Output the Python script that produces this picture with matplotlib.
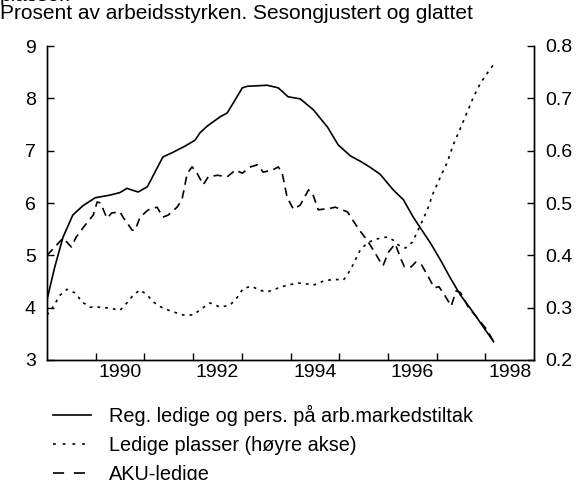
import matplotlib
matplotlib.use("Agg")
import matplotlib.pyplot as plt
from matplotlib.lines import Line2D

plt.rcParams['font.family'] = ['Liberation Sans', 'DejaVu Sans']
plt.rcParams['lines.scale_dashes'] = False

# Reg. ledige og pers. paa arb.markedstiltak (venstre akse)
reg_years = [1989.00, 1989.16, 1989.33, 1989.53, 1989.74, 1989.99, 1990.29, 1990.50,
             1990.64, 1990.87, 1991.06, 1991.38, 1991.59, 1991.84, 1992.04, 1992.14,
             1992.29, 1992.41, 1992.56, 1992.70, 1992.85, 1993.01, 1993.11, 1993.52,
             1993.75, 1993.95, 1994.20, 1994.47, 1994.76, 1994.98, 1995.23, 1995.43,
             1995.64, 1995.84, 1996.11, 1996.32, 1996.52, 1996.67, 1996.87, 1997.08,
             1997.28, 1997.49, 1997.76, 1997.96, 1998.17]
reg_vals = [4.15, 4.78, 5.35, 5.77, 5.95, 6.10, 6.15, 6.20,
            6.28, 6.21, 6.31, 6.88, 6.97, 7.09, 7.20, 7.34,
            7.47, 7.55, 7.65, 7.72, 7.95, 8.20, 8.23, 8.25,
            8.20, 8.03, 7.99, 7.78, 7.45, 7.11, 6.90, 6.80,
            6.68, 6.55, 6.25, 6.06, 5.73, 5.52, 5.24, 4.91,
            4.57, 4.24, 3.90, 3.63, 3.35]

# AKU-ledige (venstre akse)
aku_years = [1989.00, 1989.16, 1989.33, 1989.50, 1989.60, 1989.76, 1989.95, 1990.03,
             1990.10, 1990.23, 1990.33, 1990.50, 1990.56, 1990.75, 1990.81, 1990.91,
             1991.08, 1991.26, 1991.38, 1991.49, 1991.67, 1991.77, 1991.84, 1991.88,
             1991.98, 1992.08, 1992.21, 1992.31, 1992.50, 1992.70, 1992.87, 1993.01,
             1993.18, 1993.32, 1993.44, 1993.63, 1993.75, 1993.83, 1993.93, 1994.06,
             1994.20, 1994.37, 1994.45, 1994.57, 1994.82, 1994.92, 1995.17, 1995.40,
             1995.58, 1995.74, 1995.86, 1995.90, 1996.01, 1996.15, 1996.28, 1996.34,
             1996.48, 1996.57, 1996.69, 1996.83, 1996.95, 1997.05, 1997.19, 1997.30,
             1997.40, 1997.49, 1997.65, 1997.84, 1998.04, 1998.17]
aku_vals = [5.00, 5.16, 5.33, 5.16, 5.35, 5.55, 5.77, 6.02,
            6.00, 5.71, 5.81, 5.83, 5.73, 5.48, 5.48, 5.73,
            5.87, 5.92, 5.73, 5.77, 5.92, 6.06, 6.38, 6.57,
            6.69, 6.57, 6.35, 6.50, 6.53, 6.50, 6.63, 6.57,
            6.69, 6.73, 6.59, 6.63, 6.69, 6.57, 6.11, 5.88,
            5.96, 6.25, 6.19, 5.87, 5.90, 5.92, 5.83, 5.50,
            5.28, 5.04, 4.85, 4.80, 5.06, 5.22, 4.90, 4.78,
            4.78, 4.87, 4.82, 4.59, 4.38, 4.40, 4.20, 4.03,
            4.32, 4.29, 4.01, 3.80, 3.57, 3.35]

# Ledige plasser (hoyre akse)
pl_years = [1989.00, 1989.12, 1989.27, 1989.41, 1989.58, 1989.72, 1989.88, 1990.09,
            1990.29, 1990.50, 1990.64, 1990.77, 1990.91, 1991.06, 1991.18, 1991.38,
            1991.59, 1991.80, 1992.00, 1992.19, 1992.35, 1992.56, 1992.76, 1992.91,
            1993.03, 1993.21, 1993.34, 1993.52, 1993.73, 1993.93, 1994.16, 1994.36,
            1994.47, 1994.68, 1994.88, 1995.09, 1995.23, 1995.33, 1995.43, 1995.58,
            1995.70, 1995.84, 1995.99, 1996.11, 1996.21, 1996.36, 1996.50, 1996.67,
            1996.81, 1996.93, 1997.08, 1997.22, 1997.34, 1997.49, 1997.63, 1997.76,
            1997.90, 1998.04, 1998.21]
pl_vals = [0.286, 0.301, 0.324, 0.335, 0.328, 0.311, 0.301, 0.301,
           0.299, 0.295, 0.309, 0.324, 0.334, 0.324, 0.311, 0.299,
           0.292, 0.286, 0.286, 0.299, 0.309, 0.301, 0.305, 0.320,
           0.337, 0.341, 0.334, 0.330, 0.337, 0.343, 0.347, 0.345,
           0.343, 0.351, 0.354, 0.353, 0.372, 0.391, 0.410, 0.424,
           0.429, 0.433, 0.435, 0.429, 0.420, 0.414, 0.425, 0.458,
           0.487, 0.519, 0.550, 0.578, 0.611, 0.643, 0.674, 0.703,
           0.729, 0.748, 0.770]

year_labels = [1990, 1992, 1994, 1996, 1998]
legend_labels = ["Reg. ledige og pers. på arb.markedstiltak",
                 "Ledige plasser (høyre akse)",
                 "AKU-ledige"]

fs_title = 15
fs_tick = 14
fs_leg = 14.3
fig = plt.figure(figsize=(5.79, 4.80), dpi=100)
ax = fig.add_axes([47/579, 1-360/480, (534-47)/579, (360-46)/480])
ax2 = ax.twinx()

lw = 1.2
ax.plot(reg_years, reg_vals, color='black', lw=lw)
ax.plot(aku_years, aku_vals, color='black', lw=lw, linestyle=(0, (6, 4)))
ax2.plot(pl_years, pl_vals, color='black', lw=lw, linestyle=(0, (2, 3.6)))

ax.set_xlim(1989, 1999)
ax.set_ylim(3, 9)
ax2.set_ylim(0.2, 0.8)
ax.set_yticks(range(3, 10))
ax2.set_yticks([0.2, 0.3, 0.4, 0.5, 0.6, 0.7, 0.8])
ax2.set_yticklabels(["0.2", "0.3", "0.4", "0.5", "0.6", "0.7", "0.8"])

ax.set_xticks(range(1990, 1999))
ax.set_xticklabels([])
ax.set_xticks([y + 0.5 for y in year_labels], minor=True)
ax.set_xticklabels([str(y) for y in year_labels], minor=True)

for a in (ax, ax2):
    a.spines['top'].set_visible(False)
    for s in a.spines.values():
        s.set_linewidth(1.0)
ax.tick_params(axis='x', which='major', direction='in', length=5, width=1)
ax.tick_params(axis='x', which='minor', length=0, pad=3, labelsize=fs_tick)
ax.tick_params(axis='y', direction='in', length=5, width=1, pad=8, labelsize=fs_tick)
ax2.tick_params(axis='y', direction='in', length=5, width=1, pad=8, labelsize=fs_tick)

# first title line is cut by the top edge in the original
fig.text(0.0, 1 - 1/480, "plasser.", fontsize=fs_title, va='baseline', ha='left')
fig.text(0.0, 1 - 19/480, "Prosent av arbeidsstyrken. Sesongjustert og glattet",
         fontsize=fs_title, va='baseline', ha='left')

handles = [Line2D([], [], color='black', lw=lw),
           Line2D([], [], color='black', lw=lw, linestyle=(0, (2, 5))),
           Line2D([], [], color='black', lw=lw, linestyle=(0, (8, 7)))]
fig.legend(handles, legend_labels, loc='upper left',
           bbox_to_anchor=(53/579, 1 - 405/480), frameon=False, fontsize=fs_leg,
           handlelength=1.9, handletextpad=0.9, labelspacing=0.5,
           borderaxespad=0, borderpad=0)

fig.savefig("out.png", dpi=100)
